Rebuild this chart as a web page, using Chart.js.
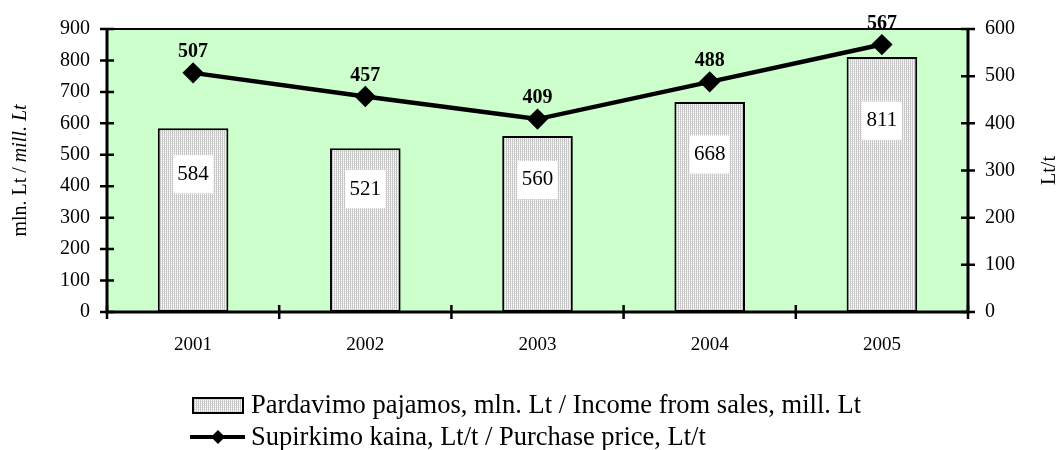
<!DOCTYPE html>
<html>
<head>
<meta charset="utf-8">
<script src="https://cdn.jsdelivr.net/npm/chart.js@4/dist/chart.umd.min.js"></script>
<style>
  html, body { margin: 0; padding: 0; background: #fff; }
  #wrap { width: 1061px; height: 450px; }
</style>
</head>
<body>
<div id="wrap"><canvas id="salesChart" width="1061" height="450"></canvas></div>
<script>
const years = ['2001', '2002', '2003', '2004', '2005'];
const income = [584, 521, 560, 668, 811];
const price = [507, 457, 409, 488, 567];
const incomeAxis = { max: 900, step: 100 };
const priceAxis = { max: 600, step: 100 };
const incomeLabel = 'Pardavimo pajamos, mln. Lt / Income from sales, mill. Lt';
const priceLabel = 'Supirkimo kaina, Lt/t / Purchase price, Lt/t';

const FONT = '"Liberation Serif", "Times New Roman", serif';

// fine grey stripes like the old excel fill
function makePattern() {
    const c = document.createElement('canvas');
    c.width = 2; c.height = 2;
    const p = c.getContext('2d');
    p.fillStyle = '#ffffff';
    p.fillRect(0, 0, 2, 2);
    p.fillStyle = '#c8c8c8';
    p.fillRect(0, 0, 1, 2);
    p.fillStyle = '#e4e4e4';
    p.fillRect(1, 1, 1, 1);
    return p.createPattern(c, 'repeat');
}

function diamond(ctx, x, y, r) {
    ctx.beginPath();
    ctx.moveTo(x, y - r);
    ctx.lineTo(x + r, y);
    ctx.lineTo(x, y + r);
    ctx.lineTo(x - r, y);
    ctx.closePath();
    ctx.fill();
}

const ctx = document.getElementById('salesChart').getContext('2d');
const barFill = makePattern();

const plotFrame = {
    id: 'plotFrame',
    beforeDatasetsDraw(chart) {
        const { ctx, chartArea: a } = chart;
        ctx.save();
        ctx.fillStyle = '#ccffcc';
        ctx.fillRect(a.left, a.top, a.right - a.left, a.bottom - a.top);
        ctx.restore();
    },
    afterDatasetsDraw(chart) {
        const { ctx, chartArea: a, scales } = chart;
        ctx.save();

        // white boxes with the income values
        const barMeta = chart.getDatasetMeta(1);
        ctx.font = '21px ' + FONT;
        ctx.textAlign = 'center';
        ctx.textBaseline = 'middle';
        barMeta.data.forEach((bar, i) => {
            const y = scales.y.getPixelForValue(income[i] * 0.75);
            ctx.fillStyle = '#ffffff';
            ctx.fillRect(bar.x - 20, y - 19, 40, 38);
            ctx.fillStyle = '#000';
            ctx.fillText(String(income[i]), bar.x, y);
        });

        // bold price labels
        const lineMeta = chart.getDatasetMeta(0);
        ctx.font = 'bold 20px ' + FONT;
        lineMeta.data.forEach((pt, i) => {
            ctx.fillText(String(price[i]), pt.x, pt.y - 21);
        });

        // frame and axes
        ctx.strokeStyle = '#000';
        ctx.lineWidth = 2;
        ctx.strokeRect(a.left, a.top, a.right - a.left, a.bottom - a.top);
        ctx.lineWidth = 3;
        ctx.beginPath();
        ctx.moveTo(a.left, a.top); ctx.lineTo(a.left, a.bottom);
        ctx.lineTo(a.right, a.bottom); ctx.lineTo(a.right, a.top);
        ctx.stroke();

        ctx.lineWidth = 2.5;
        ctx.beginPath();
        for (let v = 0; v <= incomeAxis.max; v += incomeAxis.step) {
            const y = scales.y.getPixelForValue(v);
            ctx.moveTo(a.left - 7, y); ctx.lineTo(a.left + 7, y);
        }
        for (let v = 0; v <= priceAxis.max; v += priceAxis.step) {
            const y = scales.y1.getPixelForValue(v);
            ctx.moveTo(a.right - 7, y); ctx.lineTo(a.right + 7, y);
        }
        const step = (a.right - a.left) / years.length;
        for (let i = 0; i <= years.length; i++) {
            const x = a.left + i * step;
            ctx.moveTo(x, a.bottom - 7); ctx.lineTo(x, a.bottom + 7);
        }
        ctx.stroke();
        ctx.restore();
    },
    afterDraw(chart) {
        const { ctx, chartArea: a } = chart;
        const midY = (a.top + a.bottom) / 2;
        ctx.save();
        ctx.fillStyle = '#000';
        ctx.textBaseline = 'middle';

        // left title, mixed upright / italic
        ctx.save();
        ctx.translate(21, midY);
        ctx.rotate(-Math.PI / 2);
        const parts = [['mln. Lt / ', ''], ['mill. Lt', 'italic ']];
        let total = 0;
        parts.forEach(p => { ctx.font = p[1] + '20px ' + FONT; total += ctx.measureText(p[0]).width; });
        let x = -total / 2;
        ctx.textAlign = 'left';
        parts.forEach(p => {
            ctx.font = p[1] + '20px ' + FONT;
            ctx.fillText(p[0], x, 0);
            x += ctx.measureText(p[0]).width;
        });
        ctx.restore();

        // right title
        ctx.save();
        ctx.translate(1050, midY);
        ctx.rotate(-Math.PI / 2);
        ctx.textAlign = 'center';
        ctx.font = '20px ' + FONT;
        ctx.fillText('Lt/t', 0, 0);
        ctx.restore();

        // legend
        ctx.font = '26.5px ' + FONT;
        ctx.textAlign = 'left';
        ctx.fillStyle = barFill;
        ctx.fillRect(193, 398, 50, 15);
        ctx.strokeStyle = '#000';
        ctx.lineWidth = 2;
        ctx.strokeRect(193, 398, 50, 15);
        ctx.fillStyle = '#000';
        ctx.fillText(incomeLabel, 251, 406);

        ctx.lineWidth = 4;
        ctx.beginPath();
        ctx.moveTo(190, 437); ctx.lineTo(245, 437);
        ctx.stroke();
        diamond(ctx, 218, 437, 7);
        ctx.fillText(priceLabel, 251, 438);
        ctx.restore();
    }
};

new Chart(ctx, {
    data: {
        labels: years,
        datasets: [
            {
                type: 'line',
                label: priceLabel,
                data: price,
                yAxisID: 'y1',
                borderColor: '#000',
                backgroundColor: '#000',
                borderWidth: 4.5,
                pointStyle: 'rectRot',
                pointRadius: 7.5,
                pointHoverRadius: 7.5,
                tension: 0,
                order: 0,
            },
            {
                type: 'bar',
                label: incomeLabel,
                data: income,
                yAxisID: 'y',
                backgroundColor: barFill,
                borderColor: '#000',
                borderWidth: 2,
                borderSkipped: false,
                barPercentage: 0.41,
                categoryPercentage: 1,
                order: 1,
            },
        ],
    },
    options: {
        responsive: false,
        animation: false,
        layout: { padding: { top: 24, left: 0, right: 0, bottom: 0 } },
        plugins: {
            legend: { display: false },
            tooltip: { enabled: false },
        },
        scales: {
            x: {
                grid: { display: false, drawTicks: false },
                border: { display: false },
                ticks: { color: '#000', font: { family: FONT, size: 19 }, padding: 22 },
                afterFit(scale) { scale.height = 138; },
            },
            y: {
                position: 'left',
                min: 0,
                max: incomeAxis.max,
                grid: { display: false, drawTicks: false },
                border: { display: false },
                ticks: { stepSize: incomeAxis.step, color: '#000', font: { family: FONT, size: 20 }, padding: 17 },
                afterFit(scale) { scale.width = 107; },
            },
            y1: {
                position: 'right',
                min: 0,
                max: priceAxis.max,
                grid: { display: false, drawTicks: false },
                border: { display: false },
                ticks: { stepSize: priceAxis.step, color: '#000', font: { family: FONT, size: 20 }, padding: 17 },
                afterFit(scale) { scale.width = 93; },
            },
        },
    },
    plugins: [plotFrame],
});
</script>
</body>
</html>
